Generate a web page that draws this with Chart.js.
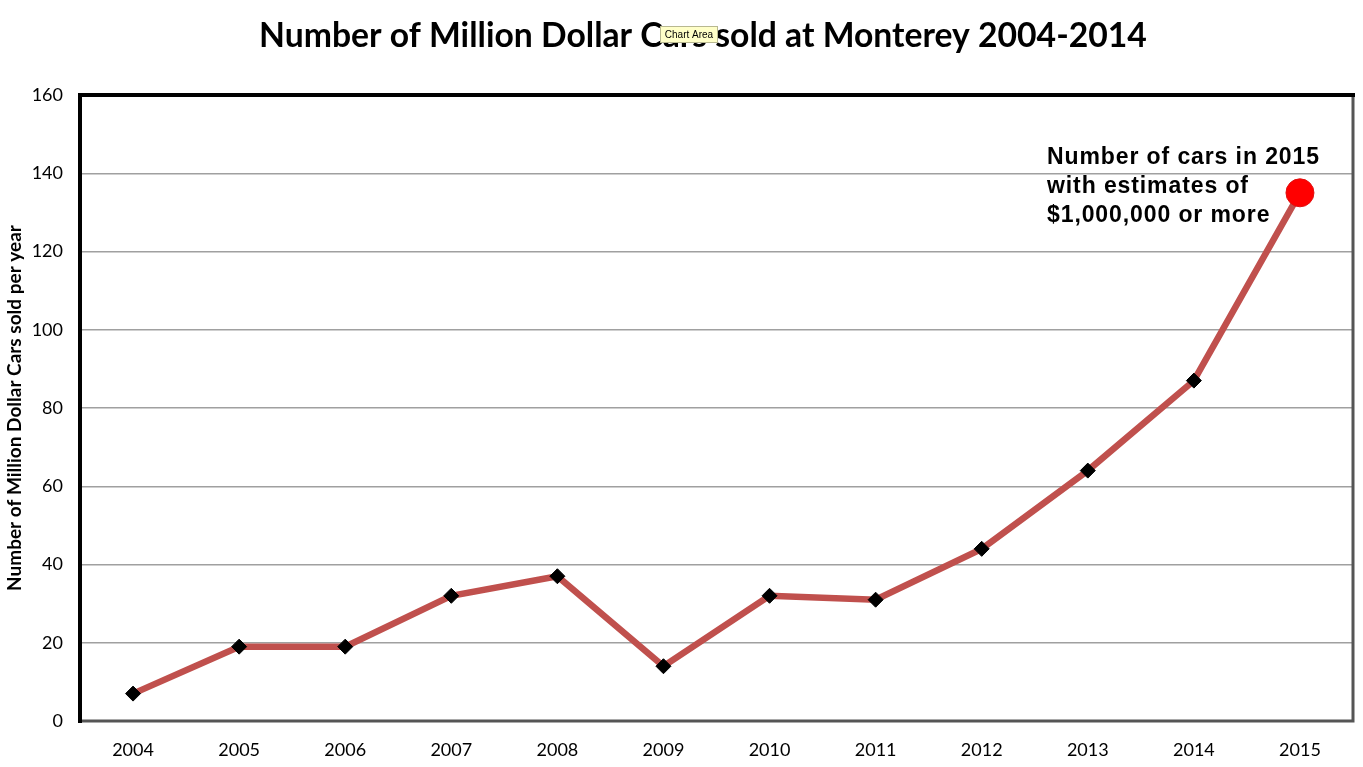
<!DOCTYPE html>
<html><head><meta charset="utf-8">
<script src="https://cdn.jsdelivr.net/npm/chart.js@4/dist/chart.umd.min.js"></script>
<style>html,body{margin:0;padding:0;background:#fff}#wrap{width:1363px;height:767px}</style>
</head><body><div id="wrap"><canvas id="c" width="1363" height="767"></canvas></div>
<script>
const categories = ['2004','2005','2006','2007','2008','2009','2010','2011','2012','2013','2014','2015'];
const carsSold = [7, 19, 19, 32, 37, 14, 32, 31, 44, 64, 87, 135];
const yTicks = [0, 20, 40, 60, 80, 100, 120, 140, 160];
const chartTitle = 'Number of Million Dollar Cars sold at Monterey 2004-2014';
const yAxisTitle = 'Number of Million Dollar Cars sold per year';
const noteLines = ['Number of cars in 2015', 'with estimates of', '$1,000,000 or more'];

const last = carsSold.length - 1;
const framePlugin = {
  id: 'frame',
  beforeDatasetsDraw(chart) {
    const {ctx, chartArea: a} = chart;
    ctx.save();
    ctx.lineCap = 'square';
    ctx.strokeStyle = '#555';
    ctx.lineWidth = 3;
    ctx.beginPath();
    ctx.moveTo(a.right, a.top); ctx.lineTo(a.right, a.bottom); ctx.lineTo(a.left, a.bottom);
    ctx.stroke();
    ctx.strokeStyle = '#000';
    ctx.lineWidth = 4;
    ctx.beginPath();
    ctx.moveTo(a.left, a.bottom); ctx.lineTo(a.left, a.top); ctx.lineTo(a.right, a.top);
    ctx.stroke();
    ctx.restore();
  },
  afterDraw(chart) {
    const {ctx, chartArea: a} = chart;
    ctx.save();
    // title
    ctx.font = 'bold 33.7px Lato, "Open Sans", sans-serif';
    ctx.fillStyle = '#000';
    ctx.textAlign = 'center';
    ctx.textBaseline = 'middle';
    ctx.fillText(chartTitle, 703, 36);
    // annotation
    ctx.font = 'bold 23px "Liberation Sans", Arial, sans-serif';
    ctx.letterSpacing = '0.9px';
    ctx.textAlign = 'left';
    const x0 = a.right - 306;
    noteLines.forEach((t, i) => ctx.fillText(t, x0, 158 + i * 29));
    ctx.letterSpacing = '0px';
    // "Chart Area" hover tag
    ctx.fillStyle = '#ffffc8';
    ctx.strokeStyle = '#b8b890';
    ctx.lineWidth = 1;
    ctx.fillRect(660.5, 26.5, 57, 16);
    ctx.strokeRect(660.5, 26.5, 57, 16);
    ctx.fillStyle = '#000';
    ctx.font = '10px "Liberation Sans", Arial, sans-serif';
    ctx.textAlign = 'center';
    ctx.fillText('Chart Area', 689, 35);
    ctx.restore();
  }
};

new Chart(document.getElementById('c'), {
  type: 'line',
  data: {
    labels: categories,
    datasets: [{
      data: carsSold,
      borderColor: '#c0504d',
      borderWidth: 6.5,
      tension: 0,
      pointStyle: carsSold.map((v, i) => i === last ? 'circle' : 'rectRot'),
      pointRadius: carsSold.map((v, i) => i === last ? 14 : 7.5),
      pointBackgroundColor: carsSold.map((v, i) => i === last ? '#ff0000' : '#000'),
      pointBorderColor: carsSold.map((v, i) => i === last ? '#e01010' : '#000'),
      pointBorderWidth: 1
    }]
  },
  plugins: [framePlugin],
  options: {
    responsive: false,
    animation: false,
    layout: {autoPadding: false, padding: {left: 0, right: 10, top: 95, bottom: 0}},
    plugins: {
      legend: {display: false},
      tooltip: {enabled: false},
      title: {display: false}
    },
    scales: {
      x: {
        offset: true,
        grid: {display: false, drawTicks: false},
        border: {display: false},
        ticks: {color: '#000', padding: 18, font: {family: 'Lato, sans-serif', size: 18}, maxRotation: 0},
        afterFit(s) { s.height = 46; s.paddingLeft = 0; s.paddingRight = 0; }
      },
      y: {
        min: 0, max: 160,
        afterBuildTicks(s) { s.ticks = yTicks.map(v => ({value: v})); },
        grid: {color: '#a0a0a0', lineWidth: 1.5, drawTicks: false},
        border: {display: false},
        ticks: {color: '#000', padding: 17, font: {family: 'Lato, sans-serif', size: 18}},
        title: {display: true, text: yAxisTitle, color: '#000', padding: {top: 3, bottom: 0},
          font: {family: 'Lato, sans-serif', size: 19, weight: 'bold'}},
        afterFit(s) { s.width = 80; s.paddingTop = 0; s.paddingBottom = 0; }
      }
    }
  }
});
</script></body></html>
